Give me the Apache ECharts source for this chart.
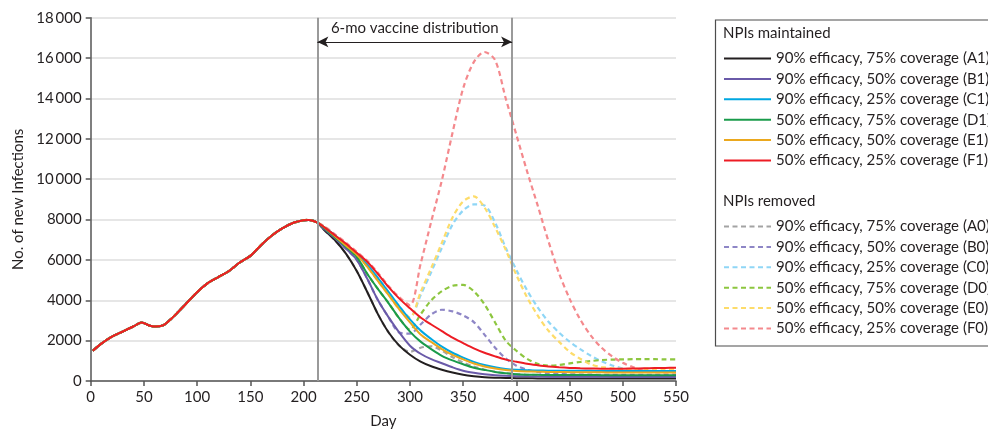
<!DOCTYPE html>
<html>
<head>
<meta charset="utf-8">
<script src="https://cdn.jsdelivr.net/npm/echarts@6.0.0/dist/echarts.min.js"></script>
<style>
  html, body { margin: 0; padding: 0; background: #ffffff; }
  #chart { width: 988px; height: 434px; }
</style>
</head>
<body>
<div id="chart"></div>
<script>
// ---- Data ----
const riseDays = [2,10,20,30,40,48,55,60,68,75,80,90,100,110,120,130,140,150,160,170,180,190,200,205,213];
const riseValues = [1500,1850,2200,2450,2700,2900,2750,2700,2760,3050,3300,3850,4400,4850,5150,5450,5870,6200,6730,7200,7560,7830,7960,7980,7850];
const laterDays = [220,230,240,250,260,270,280,290,300,310,320,330,340,350,360,370,380,390,400,410,420,430,440,450,460,470,480,490,500,510,520,530,540,550];

// NPIs maintained (solid)
const A1 = [7450,6950,6300,5450,4400,3300,2400,1750,1300,960,730,560,420,310,240,190,165,150,140,135,130,130,130,128,126,125,124,123,122,121,120,120,120,120];
const B1 = [7500,7050,6550,6000,5050,4000,3150,2400,1750,1350,1080,880,680,510,410,340,290,260,240,230,220,215,212,210,208,206,205,204,203,202,201,200,200,200];
const C1 = [7600,7200,6750,6300,5750,5100,4400,3700,3050,2500,2080,1700,1400,1160,950,790,680,600,555,530,520,512,508,505,503,502,501,500,500,500,500,500,500,500];
const D1 = [7550,7100,6650,6150,5300,4550,3850,3100,2450,1950,1580,1250,1020,830,660,550,450,380,335,315,305,300,297,295,293,292,291,290,290,290,290,290,290,290];
const E1 = [7600,7150,6700,6250,5650,4950,4250,3550,2900,2300,1930,1580,1290,1070,870,720,615,545,500,475,460,450,443,437,433,430,428,426,425,424,423,422,421,420];
const F1 = [7600,7200,6800,6350,5900,5300,4650,4080,3600,3150,2800,2470,2150,1880,1620,1400,1220,1060,950,850,780,720,680,650,630,620,610,610,610,620,630,640,650,660];

// NPIs removed (dashed)
const A0 = [7450,6950,6300,5450,4400,3300,2400,1750,1450,1650,1720,1500,1180,920,720,570,460,390,340,310,290,280,270,265,262,260,258,256,255,254,253,252,251,250];
const B0 = [7500,7050,6550,6000,5050,4000,3150,2400,2350,2800,3300,3530,3450,3250,2920,2300,1650,1120,760,560,440,380,350,330,320,312,308,305,303,302,301,300,300,300];
const C0 = [7600,7200,6750,6300,5750,5100,4400,3700,3150,4250,5400,6600,7750,8450,8750,8700,7850,6600,5500,4500,3650,2950,2400,1950,1580,1250,980,770,620,530,480,460,450,450];
const D0 = [7550,7100,6650,6150,5300,4550,3850,3100,2550,3300,4000,4450,4720,4760,4450,3800,2900,2000,1500,1100,850,760,790,870,940,990,1040,1060,1070,1080,1080,1080,1070,1070];
const E0 = [7600,7150,6700,6250,5650,4950,4250,3550,3150,4400,5600,6850,8100,8900,9150,8600,7620,6500,5250,4150,3250,2500,1950,1450,1100,820,690,630,600,600,600,600,600,600];
const F0 = [7650,7250,6850,6400,5950,5350,4700,4150,3750,5800,7900,9950,12300,14500,15800,16300,15900,14000,12200,10400,8700,6950,5350,4080,3050,2250,1650,1220,900,680,500,450,430,430];

const vaccineStart = 213;
const vaccineEnd = 396;
const arrowLevel = 16800;

const xTicks = { min: 0, max: 550, interval: 50 };
const yTicks = { min: 0, max: 18000, interval: 2000 };

const solidNames = [
  '90% efficacy, 75% coverage (A1)',
  '90% efficacy, 50% coverage (B1)',
  '90% efficacy, 25% coverage (C1)',
  '50% efficacy, 75% coverage (D1)',
  '50% efficacy, 50% coverage (E1)',
  '50% efficacy, 25% coverage (F1)'
];
const dashedNames = [
  '90% efficacy, 75% coverage (A0)',
  '90% efficacy, 50% coverage (B0)',
  '90% efficacy, 25% coverage (C0)',
  '50% efficacy, 75% coverage (D0)',
  '50% efficacy, 50% coverage (E0)',
  '50% efficacy, 25% coverage (F0)'
];
const solidColors = ['#231f20', '#6a5aa9', '#00a7e1', '#1a9b4b', '#eba81e', '#ed1c24'];
const dashedColors = ['#a3a3a3', '#8e86c6', '#8fd6f6', '#8dc63f', '#fddc6a', '#f4898d'];
const solidData = [A1, B1, C1, D1, E1, F1];
const dashedData = [A0, B0, C0, D0, E0, F0];

const FONT = 'Lato, "Open Sans", sans-serif';

function buildPoints(later) {
  const pts = [];
  for (let i = 0; i < riseDays.length; i++) pts.push([riseDays[i], riseValues[i]]);
  for (let i = 0; i < laterDays.length; i++) pts.push([laterDays[i], later[i]]);
  return pts;
}

const series = [];
dashedNames.forEach((name, i) => {
  series.push({
    name: name,
    type: 'line',
    data: buildPoints(dashedData[i]),
    smooth: 0.3,
    symbol: 'none',
    showSymbol: false,
    z: 2,
    lineStyle: { color: dashedColors[i], width: 2.2, type: [5, 3.5] },
    itemStyle: { color: dashedColors[i] }
  });
});
solidNames.forEach((name, i) => {
  series.push({
    name: name,
    type: 'line',
    data: buildPoints(solidData[i]),
    smooth: 0.3,
    symbol: 'none',
    showSymbol: false,
    z: 3,
    lineStyle: { color: solidColors[i], width: 2, type: 'solid' },
    itemStyle: { color: solidColors[i] }
  });
});

// Vertical lines and arrow annotation
series.push({
  name: 'annotation',
  type: 'line',
  data: [],
  z: 1,
  markLine: {
    silent: true,
    animation: false,
    symbol: 'none',
    label: { show: false },
    lineStyle: { color: '#9a9a9a', width: 2, type: 'solid' },
    data: [
      { xAxis: vaccineStart },
      { xAxis: vaccineEnd },
      [
        { coord: [vaccineStart, arrowLevel], symbol: 'arrow', symbolSize: [8, 11],
          lineStyle: { color: '#231f20', width: 1.2, type: 'solid' },
          label: { show: true, position: 'middle', formatter: '6-mo vaccine distribution',
                   color: '#231f20', fontSize: 15, fontFamily: FONT, distance: 6 } },
        { coord: [vaccineEnd, arrowLevel], symbol: 'arrow', symbolSize: [8, 11] }
      ]
    ]
  }
});

const chart = echarts.init(document.getElementById('chart'), null, { renderer: 'canvas' });

function fmtY(v) {
  const s = String(v);
  return v >= 10000 ? s.slice(0, s.length - 3) + '\u2009' + s.slice(s.length - 3) : s;
}

const legendCommon = {
  orient: 'vertical',
  left: 723,
  itemWidth: 47,
  itemHeight: 14,
  itemGap: 5.4,
  selectedMode: false,
  padding: 0,
  itemStyle: { opacity: 0, borderWidth: 0 },
  textStyle: { color: '#231f20', fontSize: 15, fontFamily: FONT, lineHeight: 14 }
};

chart.setOption({
  animation: false,
  backgroundColor: '#ffffff',
  textStyle: { fontFamily: FONT },
  grid: { left: 90.7, right: 312, top: 17.7, bottom: 52.3, containLabel: false },
  xAxis: {
    type: 'value',
    min: xTicks.min, max: xTicks.max, interval: xTicks.interval,
    name: 'Day', nameLocation: 'middle', nameGap: 33,
    nameTextStyle: { color: '#231f20', fontSize: 15, fontFamily: FONT },
    axisLine: { show: true, onZero: false, lineStyle: { color: '#555555', width: 1.5 } },
    axisTick: { show: true, length: 5, inside: false, lineStyle: { color: '#555555', width: 1.5 } },
    axisLabel: { color: '#231f20', fontSize: 15, fontFamily: FONT, margin: 9 },
    splitLine: { show: false }
  },
  yAxis: {
    type: 'value',
    min: yTicks.min, max: yTicks.max, interval: yTicks.interval,
    name: 'No. of new Infections', nameLocation: 'middle', nameGap: 64,
    nameTextStyle: { color: '#231f20', fontSize: 15, fontFamily: FONT },
    axisLine: { show: true, lineStyle: { color: '#555555', width: 1.5 } },
    axisTick: { show: true, length: 5, inside: false, lineStyle: { color: '#555555', width: 1.5 } },
    axisLabel: { color: '#231f20', fontSize: 15, fontFamily: FONT, margin: 9, formatter: fmtY },
    splitLine: { show: true, lineStyle: { color: '#dedede', width: 1.5 } }
  },
  legend: [
    Object.assign({}, legendCommon, { top: 51, data: solidNames }),
    Object.assign({}, legendCommon, { top: 219, data: dashedNames })
  ],
  graphic: [
    { type: 'rect', left: 713, top: 17.5, silent: true,
      shape: { x: 0, y: 0, width: 300, height: 326 },
      style: { fill: 'none', stroke: '#4d4d4d', lineWidth: 1.2 } },
    { type: 'text', left: 723, top: 26, silent: true,
      style: { text: 'NPIs maintained', fill: '#231f20', font: '15px ' + FONT } },
    { type: 'text', left: 723, top: 194, silent: true,
      style: { text: 'NPIs removed', fill: '#231f20', font: '15px ' + FONT } }
  ],
  series: series
});
</script>
</body>
</html>
